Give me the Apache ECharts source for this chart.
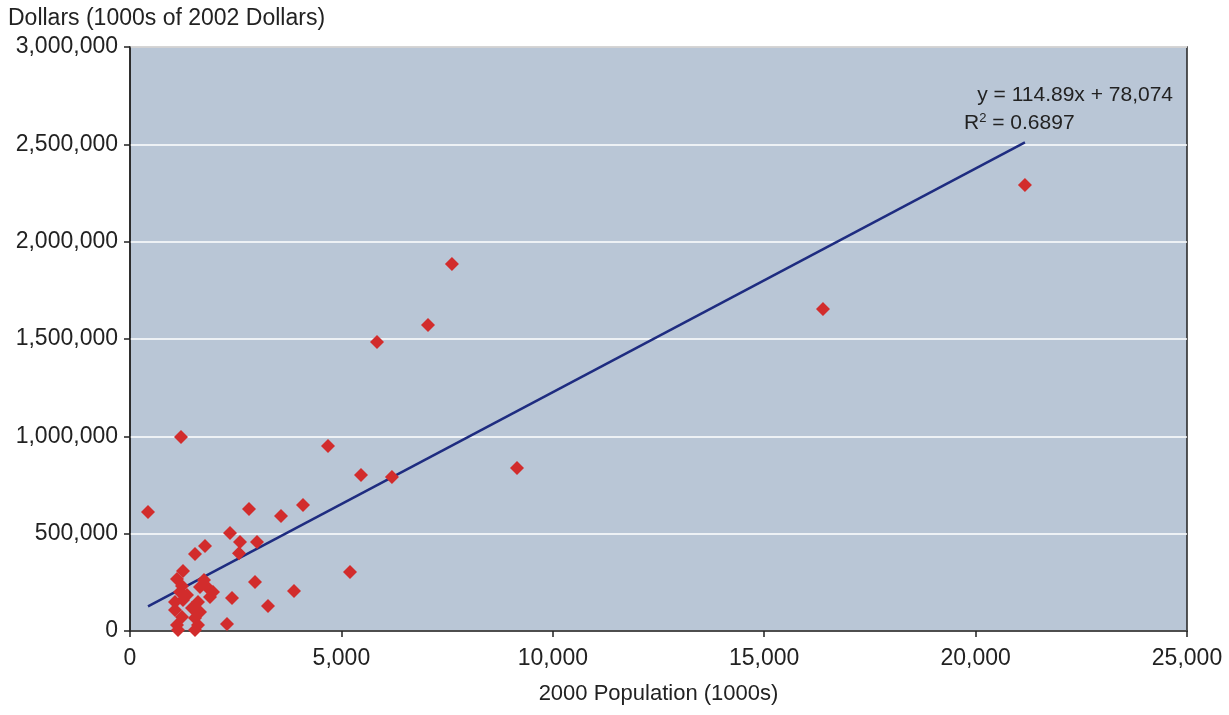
<!DOCTYPE html>
<html>
<head>
<meta charset="utf-8">
<title>Dollars vs 2000 Population</title>
<script src="https://cdn.jsdelivr.net/npm/echarts@6/dist/echarts.min.js"></script>
<style>
  html, body { margin: 0; padding: 0; background: #fff; }
  #chart { width: 1229px; height: 715px; }
</style>
</head>
<body>
<div id="chart"></div>
<script>
// population (1000s)
var population = [
  426, 1206, 21167, 16390, 7615, 7048, 5842, 9153, 4683, 5463,
  6196, 4092, 3571, 2814, 2365, 3004, 2602, 2578, 1774, 1537,
  5203, 2956, 3879, 3264, 2412, 2294,
  1253, 1112, 1750, 1230, 1656, 1845, 1963, 1892, 1183, 1064,
  1253, 1064, 1230, 1112, 1135, 1608, 1466, 1656, 1537, 1608,
  1537, 1348
];
// dollars (1000s of 2002 dollars)
var dollars = [
  611000, 997000, 2291000, 1654000, 1885000, 1572000, 1485000, 837000, 950000, 801000,
  791000, 647000, 591000, 627000, 503000, 457000, 457000, 400000, 437000, 396000,
  303000, 252000, 205000, 128000, 170000, 36000,
  308000, 267000, 262000, 231000, 226000, 221000, 200000, 175000, 200000, 149000,
  159000, 108000, 72000, 31000, 5000, 149000, 118000, 98000, 67000, 31000,
  5000, 185000
];
// trend line from the picture's equation
var slope = 114.89;
var intercept = 78074;
var xTicks = [0, 5000, 10000, 15000, 20000, 25000];
var yTicks = [0, 500000, 1000000, 1500000, 2000000, 2500000, 3000000];

var points = population.map(function (x, i) { return [x, dollars[i]]; });
var xMin = Math.min.apply(null, population);
var xMax = Math.max.apply(null, population);
var trend = [[xMin, slope * xMin + intercept], [xMax, slope * xMax + intercept]];

function fmt(v) { return v.toLocaleString('en-US'); }

var chart = echarts.init(document.getElementById('chart'));
var font = 'Liberation Sans, Arial, sans-serif';
chart.setOption({
  animation: false,
  textStyle: { fontFamily: font },
  grid: { left: 130, right: 42, top: 47, bottom: 84, show: true, backgroundColor: '#B9C6D6', borderColor: '#222', borderWidth: 1.5 },
  xAxis: {
    type: 'value', min: xTicks[0], max: xTicks[xTicks.length - 1], interval: 5000,
    name: '2000 Population (1000s)', nameLocation: 'middle', nameGap: 52,
    nameTextStyle: { fontSize: 22, color: '#222', fontFamily: font },
    axisLine: { show: true, onZero: false, lineStyle: { color: '#222', width: 1.5 } },
    axisTick: { show: true, length: 6, lineStyle: { color: '#222', width: 1.5 } },
    axisLabel: { fontSize: 23, color: '#222', margin: 16, formatter: fmt },
    splitLine: { show: false }
  },
  yAxis: {
    type: 'value', min: yTicks[0], max: yTicks[yTicks.length - 1], interval: 500000,
    axisLine: { show: true, onZero: false, lineStyle: { color: '#222', width: 1.5 } },
    axisTick: { show: true, length: 6, lineStyle: { color: '#222', width: 1.5 } },
    axisLabel: { fontSize: 23, color: '#222', margin: 12, formatter: fmt },
    splitLine: { show: true, lineStyle: { color: '#fff', width: 1.5 } }
  },
  graphic: [
    { type: 'text', left: 8, top: 7, style: { text: 'Dollars (1000s of 2002 Dollars)', font: '23px ' + font, fill: '#222' } },
    { type: 'text', right: 56, top: 85, style: { text: 'y = 114.89x + 78,074', font: '21px ' + font, fill: '#222', textAlign: 'right' } },
    { type: 'text', left: 964, top: 112, style: {
      text: '{a|R}{s|2}{a| = 0.6897}', fill: '#222',
      rich: { a: { fontSize: 21, fontFamily: font, color: '#222' }, s: { fontSize: 13, fontFamily: font, color: '#222', verticalAlign: 'top', padding: [0, 0, 9, 0] } }
    } }
  ],
  series: [
    {
      type: 'line', data: trend, showSymbol: false, symbol: 'none',
      lineStyle: { color: '#1E2C80', width: 2.5 }, z: 2
    },
    {
      type: 'scatter', data: points, symbol: 'diamond', symbolSize: 14,
      itemStyle: { color: '#D22C2C', opacity: 1 }, z: 3
    }
  ]
});
</script>
</body>
</html>
